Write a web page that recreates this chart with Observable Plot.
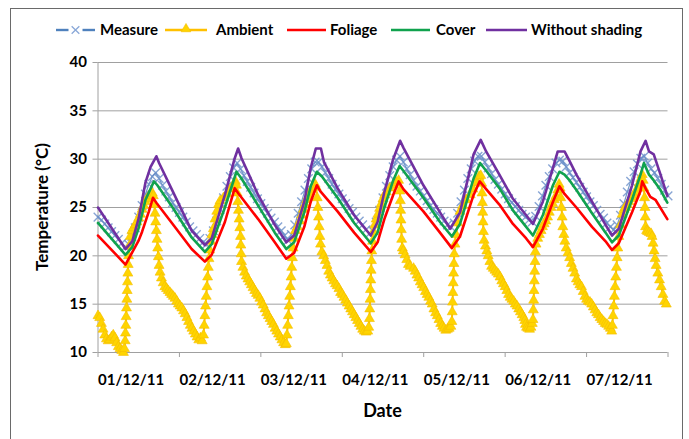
<!DOCTYPE html>
<html>
<head>
<meta charset="utf-8">
<script src="https://cdn.jsdelivr.net/npm/d3@7"></script>
<script src="https://cdn.jsdelivr.net/npm/@observablehq/plot@0.6"></script>
<style>
  html, body { margin: 0; padding: 0; background: #fff; }
  #chart svg { display: block; }
</style>
</head>
<body>
<div id="chart"></div>
<script>
// ---- Data ----
const dateLabels = ["01/12/11", "02/12/11", "03/12/11", "04/12/11", "05/12/11", "06/12/11", "07/12/11"];
const yTicks = [10, 15, 20, 25, 30, 35, 40];
const dayTicks = [0, 24, 48, 72, 96, 120, 144, 168];
const seriesNames = ["Measure", "Ambient", "Foliage", "Cover", "Without shading"];

// Measure: hourly values, hour 0 .. 168
const measure = [
  24.0,23.7,23.3,22.9,22.5,22.1,21.7,21.3,20.9,
  21.2,22.0,22.9,24.0,25.2,26.4,27.4,28.2,28.6,28.0,27.3,26.7,26.1,25.5,25.0,24.5,24.0,23.5,23.0,22.6,22.2,21.8,21.4,21.2,
  21.8,22.6,23.6,24.8,26.0,27.2,28.2,29.1,29.6,29.0,28.3,27.7,27.1,26.5,25.9,25.4,24.9,24.4,23.9,23.5,23.0,22.6,22.1,21.6,
  22.2,23.2,24.4,25.6,26.8,28.0,29.0,29.7,29.7,29.2,28.6,28.0,27.4,26.9,26.4,25.9,25.4,24.9,24.5,24.0,23.6,23.2,22.7,22.3,
  22.6,23.5,24.7,26.0,27.2,28.3,29.2,29.9,30.3,29.7,29.0,28.4,27.8,27.2,26.7,26.2,25.7,25.2,24.8,24.4,24.0,23.6,23.2,23.0,
  23.4,24.4,25.6,26.8,28.0,29.0,29.8,30.3,30.3,29.7,29.1,28.5,27.9,27.4,26.9,26.4,25.9,25.5,25.1,24.7,24.3,24.0,23.7,23.5,
  24.1,25.1,26.2,27.3,28.2,29.0,29.6,29.9,29.8,29.2,28.6,28.1,27.6,27.1,26.6,26.1,25.6,25.2,24.7,24.3,23.9,23.4,23.0,22.7,
  23.2,24.2,25.4,26.6,27.7,28.7,29.5,30.1,30.3,29.6,29.0,28.6,28.0,27.4,26.8,26.2
];

// Ambient: [hour, °C] readings
const ambient = [
  [0,13.8],[0.5,13.6],[1,13.0],[1.5,12.4],[2,11.8],[2.5,11.4],[3,11.2],[3.5,11.3],[4,11.6],[4.5,11.8],[5,11.5],[5.5,11.0],[6,10.6],[6.5,10.4],[7,10.2],[7.5,10.0],
  [7.8,10.4],[8.0,11.2],[8.1,12.0],[8.2,12.8],[8.3,13.7],[8.4,14.6],[8.5,15.5],[8.6,16.4],[8.7,17.3],[8.8,18.2],[8.9,19.1],[9.0,20.0],[9.2,21.0],[9.5,22.0],
  [10,22.6],[10.5,22.9],[11,23.2],[11.5,23.5],[12,23.9],[12.5,24.3],[13,24.8],[13.5,25.2],[14,25.6],[14.5,25.9],[15,26.2],[15.5,26.4],[16,26.5],
  [16.3,26.2],[16.6,25.3],[16.8,24.4],[17,23.5],[17.2,22.6],[17.4,21.7],[17.6,20.8],[17.8,19.9],[18,19.0],[18.3,18.3],[18.7,17.7],[19.2,17.2],[19.7,16.8],
  [20.2,16.6],[20.7,16.4],[21.2,16.2],[21.7,16.0],[22.2,15.8],[22.7,15.6],[23.2,15.3],[23.7,15.0],[24.2,14.8],[24.7,14.6],[25.2,14.3],[25.7,14.0],
  [26.2,13.6],[26.7,13.2],[27.2,12.8],[27.7,12.5],[28.2,12.2],[28.7,11.9],[29.2,11.6],[29.7,11.3],[30.2,11.5],[30.7,11.2],[31.1,11.8],
  [31.3,12.8],[31.5,13.8],[31.7,14.8],[31.9,15.8],[32.1,16.8],[32.3,17.8],[32.5,18.8],[32.7,19.7],[32.9,20.6],[33.2,21.5],[33.6,22.2],[34,22.8],
  [34.5,23.8],[35,24.6],[35.5,25.3],[36,25.7],[37,26.0],[38,26.4],[39,26.9],[40,27.4],[40.5,27.7],
  [40.8,27.3],[41,26.5],[41.2,25.6],[41.4,24.7],[41.6,23.8],[41.8,22.9],[42,22.0],[42.1,21.1],[42.2,20.2],[42.3,19.4],[42.7,18.8],[43.2,18.3],
  [43.7,17.9],[44.2,17.6],[44.7,17.3],[45.2,17.0],[45.7,16.7],[46.2,16.4],[46.7,16.1],[47.2,15.9],[47.7,15.6],[48.2,15.2],[48.7,14.9],[49.2,14.5],
  [49.7,14.1],[50.2,13.8],[50.7,13.5],[51.2,13.2],[51.7,12.9],[52.2,12.5],[52.7,12.2],[53.2,11.9],[53.7,11.6],[54.2,11.3],[54.7,11.0],[55.2,10.8],[55.5,10.9],
  [55.7,11.8],[55.9,12.8],[56.1,13.8],[56.3,14.8],[56.5,15.8],[56.7,16.8],[56.9,17.8],[57.1,18.8],[57.3,19.8],[57.5,20.8],[57.8,21.8],[58.2,22.6],
  [58.8,23.0],[59.5,23.6],[60,24.2],[60.5,24.8],[61,25.3],[61.5,25.8],[62,26.2],[62.5,26.6],[63,26.9],[63.5,27.2],[64,27.4],[64.3,27.1],
  [64.6,26.0],[64.8,25.0],[65.0,24.0],[65.2,23.0],[65.4,22.0],[65.6,21.2],[66,20.4],[66.5,20.0],[67,19.5],[67.5,19.0],[68,18.4],[68.5,18.0],
  [69,17.7],[69.5,17.4],[70,17.1],[70.5,16.9],[71,16.6],[71.5,16.2],[72,16.0],[72.5,15.7],[73,15.4],[73.5,15.1],[74,14.8],[74.5,14.5],[75,14.2],
  [75.5,13.9],[76,13.6],[76.5,13.3],[77,13.0],[77.5,12.7],[78,12.4],[78.5,12.2],[79,12.1],[79.5,12.2],[79.8,12.6],
  [80,13.5],[80.1,14.5],[80.2,15.5],[80.3,16.5],[80.4,17.5],[80.5,18.5],[80.6,19.5],[80.7,20.5],[80.9,21.5],[81.2,22.5],[81.6,23.2],[82,23.8],
  [82.5,24.3],[83,24.9],[83.5,25.4],[84,25.9],[84.5,26.3],[85,26.6],[86,27.0],[87,27.3],[88,27.6],[88.6,27.8],
  [89,26.7],[89.1,25.7],[89.2,24.7],[89.3,23.7],[89.4,22.7],[89.5,21.7],[89.7,20.8],[90,20.5],[90.5,20.1],[91,19.6],[91.5,19.1],[92,18.9],[93,18.7],
  [93.5,18.4],[94,18.0],[94.5,17.7],[95,17.3],[95.5,17.0],[96,16.7],[96.5,16.3],[97,16.0],[97.5,15.7],[98,15.3],[98.5,15.0],[99,14.5],[99.5,14.1],
  [100,13.8],[100.5,13.4],[101,13.0],[101.5,12.7],[102,12.5],[102.5,12.3],[103,12.4],[103.5,12.5],[104,12.7],
  [104.3,13.2],[104.4,14.2],[104.5,15.2],[104.6,16.2],[104.7,17.2],[104.8,18.2],[104.9,19.2],[105.0,20.2],[105.2,21.2],[105.5,22.2],[106,23.4],
  [106.7,24.6],[107.5,25.2],[108.5,25.8],[109.7,26.3],[110.5,26.9],[111.5,27.6],[112.3,28.2],[112.8,28.3],
  [113.1,27.5],[113.2,26.5],[113.3,25.5],[113.4,24.5],[113.5,23.5],[113.6,22.5],[113.8,21.6],[114.2,21.0],[114.6,20.5],[115,20.0],[115.5,19.4],
  [116,18.9],[116.5,18.7],[117,18.5],[117.5,18.3],[118,18.1],[118.5,17.8],[119,17.4],[119.5,17.1],[120,16.8],[120.5,16.4],[121,16.0],[121.5,15.7],
  [122,15.5],[122.5,15.3],[123,15.0],[123.5,14.8],[124,14.5],[124.5,14.2],[125,13.9],[125.5,13.6],[125.8,13.3],[126,12.9],[126.3,12.6],[126.7,12.5],
  [127.2,12.4],[127.6,12.6],[128,13.0],
  [128.2,13.4],[128.3,14.4],[128.4,15.4],[128.5,16.4],[128.6,17.4],[128.7,18.4],[128.8,19.4],[128.9,20.4],[129.1,21.2],[129.6,21.8],[130.1,22.2],
  [130.6,22.6],[131,23.0],[131.5,23.3],[132,23.6],[132.5,24.0],[133,24.5],[133.5,25.0],[134,25.4],[134.5,25.8],[135,26.2],[135.5,26.8],[135.9,27.4],[136.2,27.0],
  [136.4,26.0],[136.6,25.0],[136.8,24.0],[137,23.0],[137.3,22.2],[137.6,21.5],[138,20.8],[138.5,20.3],[139,19.8],[139.5,19.2],[140,18.7],[140.5,18.2],
  [141,17.6],[141.5,17.3],[142,17.0],[142.5,16.8],[143,16.3],[143.5,15.8],[144,15.5],[144.5,15.3],[145,15.2],[145.5,15.0],[146,14.7],[146.5,14.4],
  [147,14.1],[147.5,13.9],[148,13.6],[148.5,13.4],[149,13.2],[149.5,13.0],[150,12.9],[150.5,12.7],[151,12.5],[151.4,12.2],
  [151.6,12.8],[151.8,13.8],[152,14.8],[152.2,15.8],[152.4,16.8],[152.6,17.8],[152.8,18.8],[153,19.8],[153.2,20.8],[153.5,22.0],[154,23.2],
  [154.5,24.3],[155,24.8],[155.5,25.0],[156,25.3],[156.5,25.6],[157,25.9],[157.5,26.1],[158,26.3],[158.5,26.6],[159,27.0],[159.5,27.5],[160,28.0],[160.4,28.4],
  [160.7,27.8],[160.9,27.0],[161.1,26.0],[161.2,25.0],[161.3,24.0],[161.4,23.0],[161.7,22.6],[162,22.5],[162.5,22.4],[163,22.3],[163.3,22.0],
  [163.6,21.3],[163.9,20.5],[164.2,19.7],[164.5,19.0],[165,18.2],[165.5,17.5],[166,16.8],[166.5,16.0],[167,15.3],[167.5,15.0]
];

// Foliage: [hour, °C]
const foliage = [
  [0,22.1],[8.1,19.1],[10,20.3],[12,21.6],[13,22.5],[15,24.6],[16.2,26.0],[17.2,25.5],[22,23.3],[27.6,20.7],[31.5,19.4],[33.5,20.1],
  [37.4,23.5],[40.3,27.0],[41.5,26.4],[47.2,23.8],[52.1,21.4],[55.5,19.7],[57.8,20.3],[60.8,23.0],[62.7,25.6],[64.5,27.3],[65.5,26.7],
  [70.6,24.6],[75.5,22.4],[80.4,20.4],[82.4,21.4],[84.4,23.8],[87,26.3],[88.6,27.7],[90,26.9],[95.9,24.6],[100.8,22.4],[104.3,20.8],
  [106.7,22.0],[110.7,26.3],[112.5,27.7],[114.4,26.9],[118.3,25.3],[122.3,23.3],[126.2,21.8],[128.2,20.9],[131.1,22.8],[134.1,25.6],
  [136,27.2],[137.5,26.4],[141,25.0],[145.6,23.0],[149.6,21.5],[151.5,20.6],[153.5,21.3],[157.4,24.5],[159.9,26.7],[160.4,27.7],
  [161.5,26.9],[162.8,26.1],[164.3,25.8],[167.8,23.8]
];

// Cover: [hour, °C]
const cover = [
  [0,23.4],[8.1,20.1],[10.1,20.9],[12,22.9],[14,25.8],[16.5,27.7],[17.5,27.3],[22,25.0],[27.6,21.9],[31.5,20.4],[33.5,21.2],[37.4,25.0],
  [40.8,28.7],[42.3,28.0],[47.2,25.2],[52.1,22.4],[55.5,20.7],[57.8,21.4],[60.8,24.5],[62.7,27.2],[64.5,28.7],[66,28.2],[70.6,26.0],
  [75.5,23.4],[80.4,21.3],[82.4,22.4],[84.4,25.0],[87,27.8],[88.9,29.3],[90,28.8],[95.9,26.0],[100.8,23.5],[104.3,22.0],[106.7,23.3],
  [110.7,28.0],[112.6,29.6],[114.4,28.8],[118.3,27.0],[122.3,24.7],[126.2,23.0],[128.2,22.1],[131.1,24.2],[134.1,27.3],[136,28.7],
  [137.5,28.4],[139,27.8],[141,26.8],[145.6,24.4],[149.6,22.4],[151.5,21.4],[153.5,22.1],[157.4,25.8],[159.9,28.4],[160.9,29.6],
  [162.4,28.4],[163.8,27.8],[165.8,26.8],[167.8,25.5]
];

// Without shading: [hour, °C]
const withoutShading = [
  [0,25.0],[8.1,20.7],[10.1,21.5],[12,23.9],[14,27.6],[15.5,29.2],[17.2,30.3],[18,29.6],[22,26.7],[27.6,22.6],[31.5,21.1],[33.5,21.8],
  [37.4,26.3],[40.3,30.1],[41.3,31.1],[42.3,30.1],[47.2,26.3],[52.1,23.2],[55.5,21.4],[57.8,22.1],[60.8,25.6],[62.7,29.1],[64.2,31.1],
  [65.7,31.1],[66.6,29.7],[70.6,27.0],[75.5,24.2],[80.4,22.1],[82.4,23.5],[84.4,26.6],[87,30.0],[89.05,31.9],[90,31.2],[95.9,27.3],
  [100.8,24.5],[103.8,22.8],[106.7,24.5],[110.7,30.5],[112.8,32.0],[114.4,30.8],[118.3,28.4],[122.3,25.9],[126.2,24.2],[128.2,23.3],
  [131.1,25.6],[134.1,29.1],[135.5,30.8],[137.5,30.8],[139,29.8],[141,28.4],[145.6,25.6],[149.6,23.2],[151.5,22.1],[153.5,22.8],
  [157.4,27.3],[159.9,30.8],[161.4,31.9],[162.4,30.8],[163.8,30.5],[165.8,28.4],[167.8,26.2]
];

// ---- Styles ----
const colors = {
  measureLine: "#4f81bd",
  measureMark: "#6a8fc9",
  ambientLine: "#ffc000",
  ambientMark: "#ffd400",
  foliage: "#ff0000",
  cover: "#10a24e",
  without: "#7030a0"
};
const axisGray = "#a0a0a0";
const FONT = "Lato, 'Open Sans', sans-serif";

const W = 689, H = 439;
const mL = 97.5, mR = 21.5, mT = 62, mB = 87;

const plot = Plot.plot({
  width: W,
  height: H,
  marginLeft: mL,
  marginRight: mR,
  marginTop: mT,
  marginBottom: mB,
  style: { fontFamily: FONT, fontWeight: "bold", background: "#fff", color: "#000" },
  x: { domain: [0, 168], axis: null },
  y: { domain: [10, 40], axis: null },
  marks: [
    Plot.gridY(yTicks, { stroke: axisGray, strokeOpacity: 1 }),
    Plot.ruleX([0], { stroke: axisGray }),
    Plot.axisY(yTicks, {
      anchor: "left", tickSize: 5, tickPadding: 6, stroke: axisGray, fill: "#000",
      fontSize: 15, fontWeight: "bold", label: null
    }),
    Plot.axisX(dayTicks, {
      anchor: "bottom", tickSize: 5, stroke: axisGray, tickFormat: () => "", label: null
    }),
    Plot.axisX(dayTicks.slice(0, 7), {
      anchor: "bottom", tickSize: 0, tickPadding: 22, textAnchor: "start", fill: "#000",
      fontSize: 15, fontWeight: "bold", tickFormat: d => dateLabels[d / 24], label: null
    }),
    // Measure
    Plot.line(measure, { x: (d, i) => i, y: d => d, stroke: colors.measureLine, strokeWidth: 1.2, strokeOpacity: 0.8 }),
    Plot.dot(measure, { x: (d, i) => i, y: d => d, symbol: "times", r: 4, stroke: colors.measureMark, strokeWidth: 1.4, strokeOpacity: 0.8 }),
    // Ambient
    Plot.line(ambient, { x: d => d[0], y: d => d[1], stroke: colors.ambientLine, strokeWidth: 2 }),
    Plot.dot(ambient, { x: d => d[0], y: d => d[1], symbol: "triangle", r: 3.7, fill: colors.ambientMark, stroke: "#f3bd00", strokeWidth: 0.6 }),
    // Foliage, Cover, Without shading
    Plot.line(foliage, { x: d => d[0], y: d => d[1], stroke: colors.foliage, strokeWidth: 2.6, strokeLinejoin: "round" }),
    Plot.line(cover, { x: d => d[0], y: d => d[1], stroke: colors.cover, strokeWidth: 2.6, strokeLinejoin: "round" }),
    Plot.line(withoutShading, { x: d => d[0], y: d => d[1], stroke: colors.without, strokeWidth: 2.6, strokeLinejoin: "round" })
  ]
});

document.getElementById("chart").appendChild(plot);

// ---- Decorations: frame, titles, legend ----
const svg = d3.select(plot);

svg.append("rect")
  .attr("x", 10.5).attr("y", 8.5)
  .attr("width", 672).attr("height", 440)
  .attr("fill", "none").attr("stroke", "#6a6a6a").attr("stroke-width", 1);

svg.append("text")
  .attr("x", (mL + (W - mR)) / 2).attr("y", 411)
  .attr("text-anchor", "middle").attr("dy", "0.35em")
  .attr("font-family", FONT).attr("font-weight", "bold").attr("font-size", 18)
  .attr("fill", "#000")
  .text("Date");

svg.append("text")
  .attr("transform", `translate(42,${(mT + (H - mB)) / 2}) rotate(-90)`)
  .attr("text-anchor", "middle").attr("dy", "0.35em")
  .attr("font-family", FONT).attr("font-weight", "bold").attr("font-size", 17)
  .attr("fill", "#000")
  .text("Temperature (°C)");

const legY = 30;
const leg = svg.append("g").attr("font-family", FONT).attr("font-weight", "bold").attr("font-size", 15)
  .attr("text-anchor", "start");
const legendItems = [
  { name: seriesNames[0], x0: 56, x1: 95, text: 100, kind: "measure" },
  { name: seriesNames[1], x0: 165, x1: 207, text: 216, kind: "ambient" },
  { name: seriesNames[2], x0: 287, x1: 326, text: 330, kind: "line", color: colors.foliage },
  { name: seriesNames[3], x0: 391, x1: 430, text: 436, kind: "line", color: colors.cover },
  { name: seriesNames[4], x0: 486, x1: 527, text: 531, kind: "line", color: colors.without }
];
for (const it of legendItems) {
  const mid = (it.x0 + it.x1) / 2;
  if (it.kind === "measure") {
    leg.append("line").attr("x1", it.x0).attr("x2", mid - 7).attr("y1", legY).attr("y2", legY)
      .attr("stroke", colors.measureLine).attr("stroke-width", 2.4);
    leg.append("line").attr("x1", mid + 7).attr("x2", it.x1).attr("y1", legY).attr("y2", legY)
      .attr("stroke", colors.measureLine).attr("stroke-width", 2.4);
    leg.append("path").attr("d", d3.symbol(d3.symbolTimes, 40)()).attr("transform", `translate(${mid},${legY})`)
      .attr("fill", "none").attr("stroke", "#8aa8d8").attr("stroke-width", 1.3);
  } else if (it.kind === "ambient") {
    leg.append("line").attr("x1", it.x0).attr("x2", it.x1).attr("y1", legY).attr("y2", legY)
      .attr("stroke", colors.ambientLine).attr("stroke-width", 2.4);
    leg.append("path").attr("d", d3.symbol(d3.symbolTriangle, 40)()).attr("transform", `translate(${mid},${legY - 1})`)
      .attr("fill", colors.ambientMark).attr("stroke", "#f3bd00").attr("stroke-width", 0.6);
  } else {
    leg.append("line").attr("x1", it.x0).attr("x2", it.x1).attr("y1", legY).attr("y2", legY)
      .attr("stroke", it.color).attr("stroke-width", 2.6);
  }
  leg.append("text").attr("x", it.text).attr("y", legY).attr("dy", "0.35em").attr("fill", "#000").text(it.name);
}
</script>
</body>
</html>
